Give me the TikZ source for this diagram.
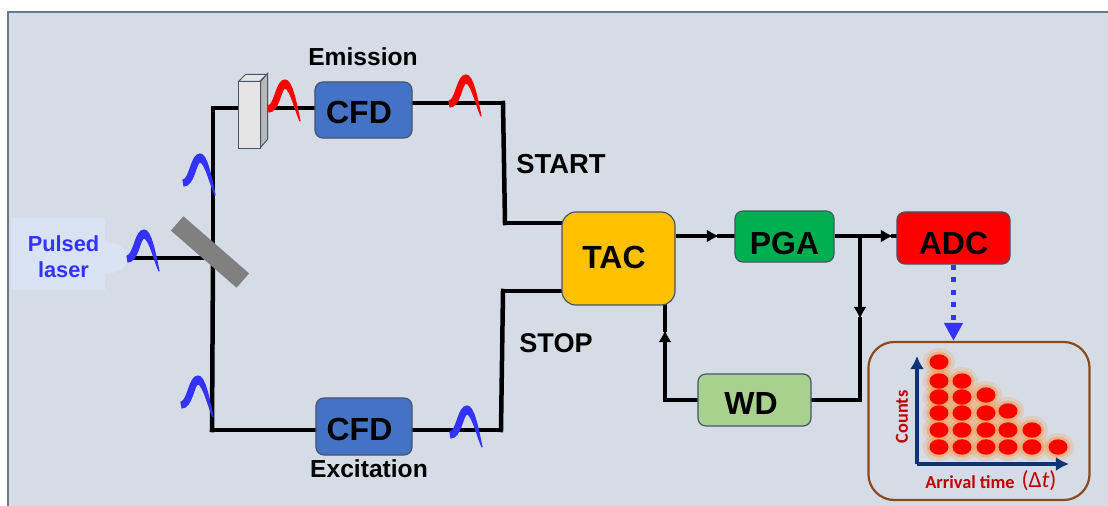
\documentclass[tikz,border=0pt]{standalone}
\usepackage{fontspec}
\setmainfont{Liberation Sans}
\newfontfamily\countfont{Carlito}
\usetikzlibrary{arrows.meta,backgrounds}
\definecolor{panelfill}{HTML}{D6DCE5}
\definecolor{panelline}{HTML}{67788F}
\definecolor{laserfill}{HTML}{DAE3F3}
\definecolor{pulseblue}{HTML}{3333FF}
\definecolor{pulsered}{HTML}{FF0000}
\definecolor{boxline}{HTML}{44546A}
\definecolor{cfdfill}{HTML}{4472C4}
\definecolor{tacfill}{HTML}{FFC000}
\definecolor{pgafill}{HTML}{00B050}
\definecolor{adcfill}{HTML}{FF0000}
\definecolor{wdfill}{HTML}{A9D18E}
\definecolor{histline}{HTML}{8B4A1E}
\definecolor{histaxis}{HTML}{0E3473}
\definecolor{histtext}{HTML}{C00000}
\definecolor{glowfill}{HTML}{F79646}
\tikzset{
    wire/.style={line width=0.045cm, line cap=rect, black},
    tipwire/.style={line width=0.045cm, black, -{Latex[length=0.12cm,width=0.13cm]}},
    cbox/.style={draw=boxline, line width=0.012cm, rounded corners=0.08cm, inner sep=0pt,
        font=\bfseries\fontsize{9.1pt}{11pt}\selectfont, text height=0.23cm, text depth=0pt},
    lbl/.style={inner sep=0pt, font=\bfseries\fontsize{#1}{11pt}\selectfont},
    pics/pulse/.style={code={
        \filldraw[#1, line width=0.012cm, line join=round]
            (-1,-2) .. controls (6,-3) and (7,-28) .. (16,-28)
            .. controls (23,-28) and (27,-6) .. (31,13)
            .. controls (27,5) and (21,-20) .. (16,-20)
            .. controls (12,-20) and (10,4) .. (0,4) -- cycle;
    }}
}
\newcommand{\dotlist}{939/447, 939/430, 939/413, 939/397, 939/381, 939/362,
    962/447, 962/430, 962/413, 962/397, 962/381,
    986/447, 986/430, 986/413, 986/395,
    1008/447, 1008/430, 1008/411,
    1032/447, 1032/430,
    1058/447}
\begin{document}
\begin{tikzpicture}[x=0.01cm, y=-0.01cm]
    \useasboundingbox (0,0) rectangle (1108,506);
    \begin{scope}[on background layer]
        \draw[panelline, fill=panelfill, line width=0.012cm] (8,12) rectangle (1130,530);
    \end{scope}

    % blocks
    \node[cbox, fill=cfdfill, minimum width=0.97cm, minimum height=0.56cm, text height=0.27cm] (cfdem) at (363.5,110) {CFD\kern0.09cm};
    \node[cbox, fill=cfdfill, minimum width=0.96cm, minimum height=0.57cm, text height=0.28cm] (cfdex) at (364,426.5) {CFD\kern0.09cm};
    \node[cbox, fill=tacfill, minimum width=1.13cm, minimum height=0.93cm, rounded corners=0.14cm, text depth=0.04cm] (tac) at (618.5,258.5) {TAC\kern0.09cm};
    \node[cbox, fill=pgafill, minimum width=0.99cm, minimum height=0.51cm, text height=0.35cm] (pga) at (784.5,236.5) {PGA};
    \node[cbox, fill=adcfill, minimum width=1.13cm, minimum height=0.52cm, text height=0.33cm] (adc) at (953.5,238) {ADC};
    \node[cbox, fill=wdfill, minimum width=1.13cm, minimum height=0.52cm, text height=0.29cm] (wd) at (754.5,400) {WD\kern0.07cm};
    \node[inner sep=0pt, fill=laserfill, minimum width=0.94cm, minimum height=0.72cm] (laser) at (58,254) {};
    \node[draw=boxline, fill=gray!20, line width=0.01cm, inner sep=0pt, minimum width=0.21cm, minimum height=0.66cm] (crystal) at (249.5,115) {};
    \node[draw=histline, line width=0.022cm, rounded corners=0.26cm, inner sep=0pt, minimum width=2.21cm, minimum height=1.58cm] (hist) at (979,421) {};

    % bends of the lines
    \coordinate (fork) at (213,258);
    \coordinate (bentop) at (213,108);
    \coordinate (benbot) at (212,430);
    \coordinate (ems) at (503,103);
    \coordinate (emsd) at (505,223);
    \coordinate (exc) at (501,430);
    \coordinate (excu) at (503,291);
    \coordinate (split) at (860,236);
    \coordinate (wdr) at (860,400);
    \coordinate (wdl) at (665,400);
    \coordinate (pgaa) at (719,236);
    \coordinate (adca) at (893,236);
    \coordinate (wda) at (860,319);
    \coordinate (taca) at (665,330);
    \coordinate (org) at (917,464);
    \coordinate (axy) at (917,356);
    \coordinate (axx) at (1069,464);

    \begin{scope}[on background layer]
        \foreach \from/\to in {laser.east |- fork/fork, fork/bentop, fork/benbot, bentop/crystal.west |- bentop,
            crystal.east |- bentop/cfdem.west |- bentop, cfdem.east |- ems/ems, ems/emsd, emsd/emsd -| tac.west,
            cfdex.west |- benbot/benbot, cfdex.east |- exc/exc, exc/excu, excu/excu -| tac.west,
            taca/tac.south -| taca, wdl/wd.west |- wdl, wd.east |- wdr/wdr, wda/wdr, pgaa/pga.west |- pgaa, adca/adc.west |- adca}
            \draw[wire] (\from) -- (\to);
        \foreach \from/\to in {tac.east |- pgaa/pgaa, pga.east |- adca/adca, split/wda, wdl/taca}
            \draw[tipwire] (\from) -- (\to);
    \end{scope}

    % beam splitter and crystal
    \node[fill=gray, inner sep=0pt, minimum width=0.87cm, minimum height=0.19cm, rotate=-41] (bs) at (210,252) {};
    \fill[laserfill] (105,242) .. controls (118,242) and (128,250) .. (128,258) .. controls (128,266) and (118,274) .. (105,274) -- cycle;
    \filldraw[draw=boxline, fill=gray!20, line width=0.01cm] (crystal.north west) -- ++(7,-7) -- ++(21,0) -- ++(-7,7) -- cycle;
    \filldraw[draw=boxline, fill=gray!55, line width=0.01cm] (crystal.north east) -- ++(7,-8) -- ++(0,66) -- ++(-7,8) -- cycle;

    % pulses
    \foreach \px/\py in {128/258, 184/182, 182/404, 451/434}
        \pic at (\px,\py) {pulse=pulseblue};
    \foreach \px/\py in {269/108, 450/103}
        \pic at (\px,\py) {pulse=pulsered};

    % labels
    \node[inner sep=0pt, align=center, text=pulseblue, font=\bfseries\fontsize{6.2pt}{7.4pt}\selectfont] (lblaser) at (63.5,256.5) {Pulsed\\laser};
    \node[lbl=7pt] (lbem) at (363,57) {Emission};
    \node[lbl=7pt] (lbex) at (369,469) {Excitation};
    \node[lbl=7.8pt] (lbstart) at (561,164) {START};
    \node[lbl=7.7pt] (lbstop) at (556,343) {STOP};

    % readout to histogram
    \draw[pulseblue, line width=0.058cm, dash pattern=on 0.05cm off 0.075cm, -{Triangle[length=0.18cm,width=0.18cm]}]
        (adc.south) -- (hist.north -| adc.south);

    \foreach \dx/\dy in \dotlist
        \fill[glowfill, opacity=0.22] (\dx,\dy) ellipse (0.16cm and 0.14cm);
    \foreach \dx/\dy in \dotlist
        \fill[glowfill, opacity=0.45] (\dx,\dy) ellipse (0.125cm and 0.105cm);
    \foreach \dx/\dy in \dotlist
        \fill[red] (\dx,\dy) ellipse (0.095cm and 0.077cm);

    \draw[histaxis, line width=0.042cm, -{Latex[length=0.13cm,width=0.14cm]}] (org) -- (axy);
    \draw[histaxis, line width=0.042cm, -{Latex[length=0.13cm,width=0.14cm]}] (org) -- (axx);
    \node[inner sep=0pt, rotate=90, text=histtext, font=\countfont\bfseries\fontsize{5.2pt}{6pt}\selectfont] (lbcounts) at (902,417) {Counts};
    \node[inner sep=0pt, text=histtext, font=\countfont\bfseries\fontsize{5.2pt}{6pt}\selectfont] (lbtime) at (970,482) {Arrival time};
    \node[inner sep=0pt, text=histtext, font=\countfont\fontsize{6.6pt}{7pt}\selectfont] (lbdelta) at (1039,481) {(Δ{\itshape t})};
\end{tikzpicture}
\end{document}
